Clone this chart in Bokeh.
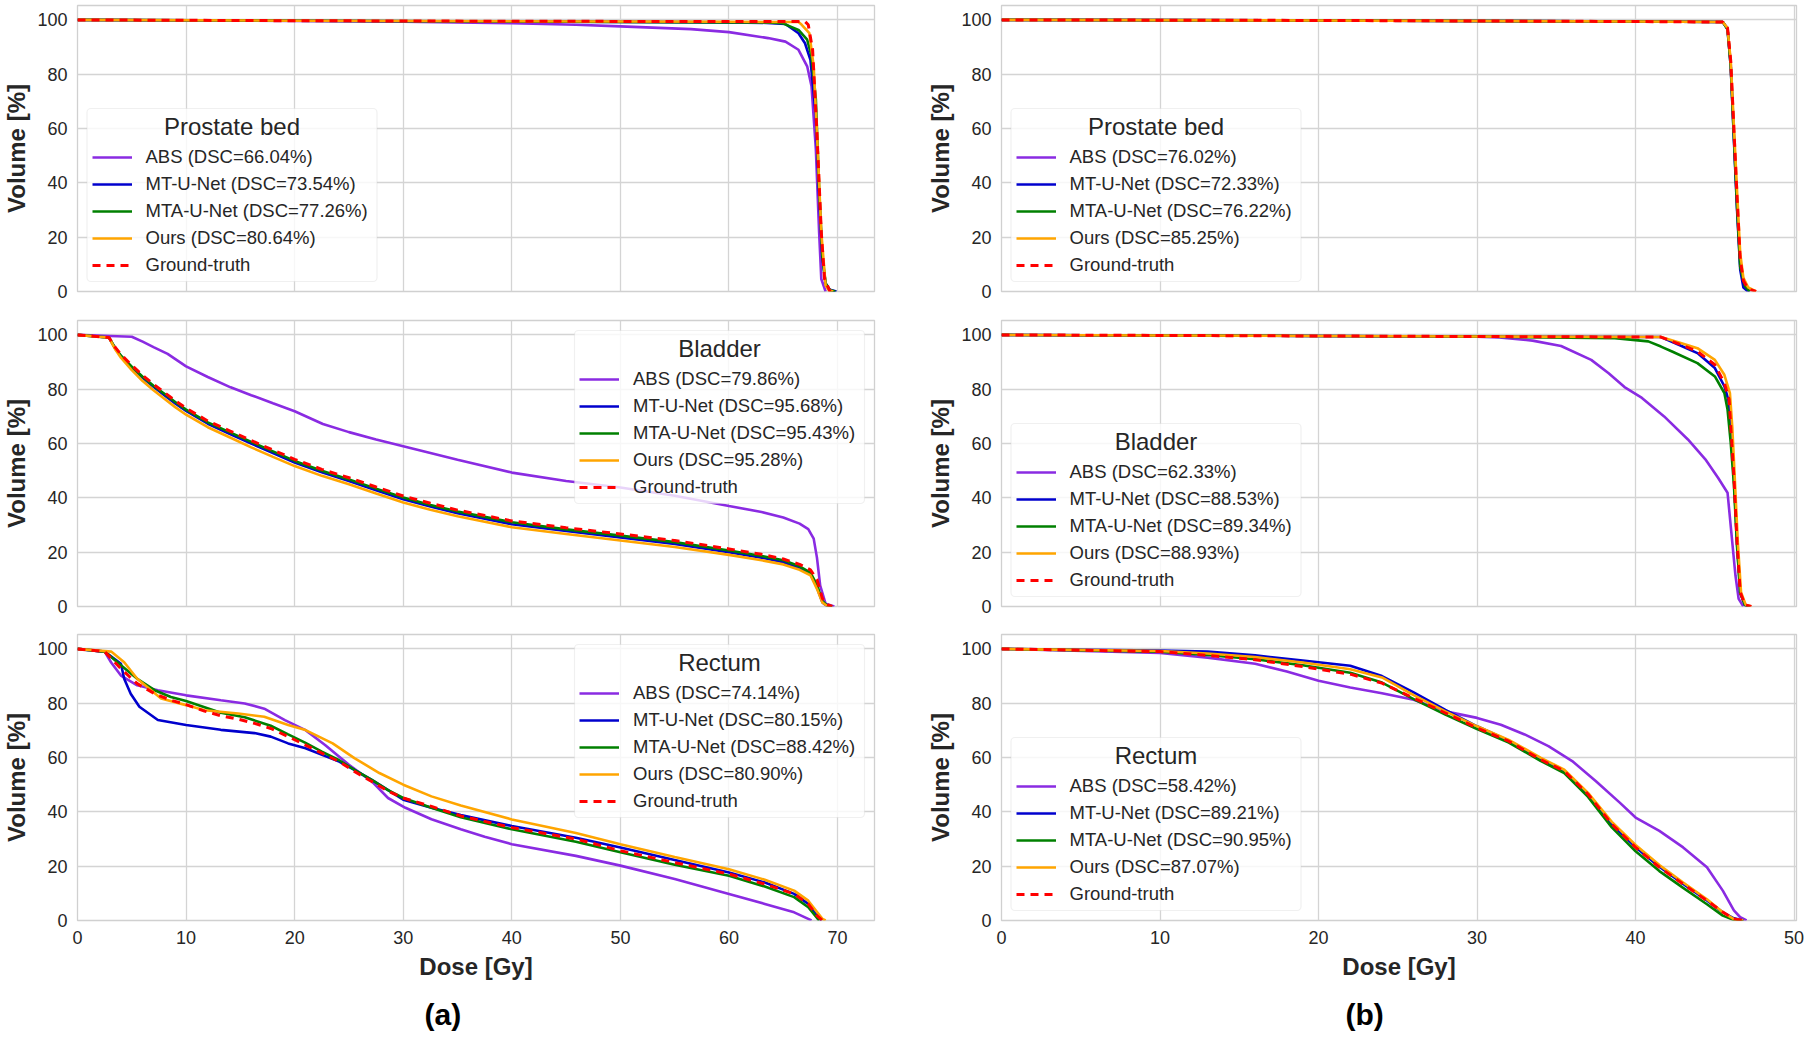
from bokeh.plotting import figure
from bokeh.models import Range1d, Legend, LegendItem, Title, FixedTicker, BoxAnnotation, Label
from bokeh.layouts import column, row
from bokeh.embed import file_html
from bokeh.resources import INLINE

# ---------------- data ----------------
methods = ["ABS", "MT-U-Net", "MTA-U-Net", "Ours", "Ground-truth"]
x_ticks_a = [0, 10, 20, 30, 40, 50, 60, 70]
x_ticks_b = [0, 10, 20, 30, 40, 50]
y_ticks = [0, 20, 40, 60, 80, 100]

# (a) Prostate bed
pa_abs_d = [0, 10, 20, 30, 40, 45.9, 50, 56.5, 60, 63.6, 65.2, 66.4, 67.2, 67.6, 68.0, 68.3, 68.5, 68.9]
pa_abs_v = [100, 99.8, 99.6, 99.3, 98.8, 98.2, 97.6, 96.6, 95.5, 93.3, 92.0, 89.0, 82.9, 75.6, 52.3, 21.8, 4.6, 0]
pa_mt_d = [0, 20, 40, 60, 63.5, 65.2, 66.4, 67.0, 67.5, 68.0, 68.3, 68.6, 68.9, 69.3, 69.9]
pa_mt_v = [100, 99.7, 99.4, 99.1, 98.9, 98.5, 95.1, 91.4, 85.3, 64.5, 35, 12, 3, 0.6, 0]
pa_mta_d = [0, 20, 40, 60, 64.0, 64.9, 66.4, 67.2, 67.6, 68.0, 68.3, 68.6, 68.9, 69.3, 69.8]
pa_mta_v = [100, 99.7, 99.4, 99.1, 99.0, 98.8, 96.3, 92.7, 86.6, 70.7, 38, 13, 3, 0.5, 0]
pa_ours_d = [0, 20, 40, 60, 66.4, 66.7, 67.4, 67.8, 68.1, 68.5, 68.9, 69.2, 69.6]
pa_ours_v = [100, 99.7, 99.5, 99.3, 99.2, 98.2, 95.1, 82.9, 58.4, 21.8, 2.2, 0.5, 0]
pa_gt_d = [0, 20, 40, 60, 67.0, 67.3, 67.7, 68.1, 68.5, 68.8, 69.3]
pa_gt_v = [100, 99.7, 99.5, 99.4, 99.4, 98.2, 89, 58.4, 21.8, 4.6, 0]
pa_dsc = ["66.04", "73.54", "77.26", "80.64"]

# (a) Bladder
ba_abs_d = [0, 3, 5, 6, 7, 8.3, 10, 12, 14.1, 16, 18, 20, 22.6, 25, 27.5, 30, 35, 40, 45, 50, 55, 60, 63, 65, 66.5, 67.3, 67.8, 68.1, 68.4, 68.9, 69.7]
ba_abs_v = [100, 99.6, 99.3, 97.5, 95.5, 93, 88.4, 84.5, 80.7, 77.8, 74.8, 71.9, 67.2, 64.2, 61.5, 59, 54, 49.3, 46.2, 43.8, 40.8, 37, 34.8, 32.8, 30.5, 28.5, 25, 18, 7.7, 1, 0]
ba_d = [0, 2, 2.9, 3.5, 4, 5, 6, 7, 8, 9, 10, 12, 14, 16, 18, 20, 22.5, 25, 27.5, 30, 32.5, 35, 37.5, 40, 45, 50, 55, 60, 63, 65, 66.5, 67.5, 68.1, 68.6, 69.0, 69.5]
ba_gt_v = [100, 99.3, 99, 95.3, 92.8, 88.8, 85.1, 81.8, 78.8, 75.8, 73.0, 68.3, 64.7, 61.1, 57.6, 54.2, 50.5, 47.4, 44.0, 40.7, 38.0, 35.5, 33.5, 31.5, 29.0, 26.7, 24.3, 21.2, 19.2, 17.5, 15.5, 13.5, 10, 3, 0.8, 0]
ba_mta_v = [100, 99.3, 99, 95.0, 92.4, 88.3, 84.6, 81.3, 78.3, 75.3, 72.5, 67.8, 64.2, 60.6, 57.1, 53.6, 50.0, 46.8, 43.4, 40.1, 37.4, 35.0, 33.0, 31.0, 28.4, 26.1, 23.7, 20.6, 18.6, 17.0, 14.8, 12.5, 8, 2, 0.5, 0]
ba_mt_v = [100, 99.3, 99, 94.8, 92.2, 88.0, 84.2, 80.9, 77.8, 74.8, 72.0, 67.3, 63.6, 60.0, 56.5, 53.0, 49.4, 46.2, 42.8, 39.5, 36.8, 34.3, 32.3, 30.3, 27.8, 25.4, 23.0, 20.0, 18.0, 16.3, 14.2, 12.0, 7, 1.5, 0.3, 0]
ba_ours_v = [100, 99.3, 99, 94.5, 91.6, 87.0, 83.0, 79.6, 76.5, 73.4, 70.6, 66.0, 62.3, 58.6, 55.1, 51.7, 48.1, 45.0, 41.6, 38.3, 35.6, 33.2, 31.2, 29.2, 26.7, 24.3, 21.9, 19.0, 17.0, 15.5, 13.5, 11.5, 6.5, 1.5, 0.3, 0]
ba_dsc = ["79.86", "95.68", "95.43", "95.28"]

# (a) Rectum
ra_abs_d = [0, 2.5, 3.1, 4.0, 5.5, 7.4, 10, 13.2, 15.4, 17.2, 19.1, 21, 22.8, 25, 27.1, 28.6, 30.2, 32.6, 35.3, 37.5, 40, 45.9, 50, 55, 60, 63.3, 66, 67.3, 67.6]
ra_abs_v = [100, 99, 95, 90.2, 86.6, 84.8, 82.9, 81.1, 79.9, 78, 73.8, 70.1, 64.6, 57.3, 51.2, 45.1, 41.5, 37.3, 33.6, 30.8, 28.1, 23.8, 20.2, 15.3, 9.8, 6.1, 3, 0.6, 0]
ra_mt_d = [0, 2.5, 4.0, 4.3, 4.9, 5.7, 7.4, 10, 13.2, 16.3, 17.8, 19.4, 21, 24.1, 25.5, 27.1, 30, 32.6, 35.3, 40, 45.9, 50, 55, 60, 63.3, 66, 67.3, 68.5]
ra_mt_v = [100, 99, 94.5, 89, 83.5, 78.7, 73.8, 72, 70.2, 69, 67.7, 65.2, 63.4, 58.5, 55.5, 51.8, 44.5, 41.5, 38.8, 34.8, 30.5, 26.9, 22.3, 17.7, 14, 9.8, 6.1, 0]
ra_mta_d = [0, 2.5, 4.0, 5.5, 7.1, 8.6, 10, 13.2, 15.4, 17.8, 19.4, 21, 22.5, 24.1, 25.5, 27.1, 28.6, 30, 32.6, 35.3, 40, 45.9, 50, 55, 60, 63.3, 66, 67.3, 68.3]
ra_mta_v = [100, 99, 94, 89, 84.8, 82.3, 80.8, 76.5, 74.8, 71.7, 68.5, 65.4, 62.2, 59, 55.5, 51.8, 48, 45.1, 41.5, 38, 33.6, 29, 25.1, 20.5, 16.5, 12.5, 8.6, 4.9, 0]
ra_ours_d = [0, 3.1, 4.3, 5.5, 7.7, 10, 11.7, 14.8, 17.2, 19.4, 21, 23.5, 25.5, 27.8, 30, 32.6, 35.3, 40, 45.9, 50, 55, 60, 63.3, 66, 67.3, 68.6, 68.9]
ra_ours_v = [100, 99, 95.1, 89, 81.7, 79.3, 77.4, 76.2, 75, 72, 70.1, 65.2, 59.8, 54.3, 50, 45.7, 42.3, 37.2, 32.2, 28.1, 23.4, 18.9, 15, 11, 7.3, 0.6, 0]
ra_gt_d = [0, 2.5, 4.0, 5.5, 7.1, 8.6, 10, 11.7, 13.2, 14.8, 16.3, 17.8, 19.4, 21, 22.5, 24.1, 25.5, 27.1, 28.6, 30, 32.6, 35.3, 40, 45.9, 50, 54.9, 60, 63.3, 66, 67.3, 68.1, 68.6]
ra_gt_v = [100, 99, 92.7, 87.2, 83.5, 81.1, 79.5, 77.1, 75.4, 74.1, 72.6, 70.7, 67.7, 64.6, 61.6, 58.5, 54.9, 51.2, 47.6, 45.1, 42, 38.5, 34.2, 30, 25.7, 21.4, 17.1, 13.4, 9.8, 6.1, 1.8, 0]
ra_dsc = ["74.14", "80.15", "88.42", "80.90"]

# (b) Prostate bed
pb_abs_d = [0, 20, 40, 45.5, 45.8, 46.0, 46.2, 46.4, 46.6, 46.8, 47.2]
pb_abs_v = [100, 99.8, 99.4, 99.2, 97, 84, 58, 32, 10, 3, 0]
pb_mt_d = [0, 20, 40, 45.5, 45.8, 46.0, 46.2, 46.4, 46.6, 46.8, 47.1]
pb_mt_v = [100, 99.8, 99.4, 99.2, 96.5, 83, 56, 30, 8, 1.5, 0]
pb_mta_d = [0, 20, 40, 45.5, 45.8, 46.0, 46.2, 46.4, 46.6, 46.9, 47.2]
pb_mta_v = [100, 99.8, 99.4, 99.2, 96.5, 83, 57, 31, 9, 2, 0]
pb_ours_d = [0, 20, 40, 45.5, 45.8, 46.0, 46.2, 46.4, 46.6, 46.8, 47.1, 47.6]
pb_ours_v = [100, 99.8, 99.4, 99.2, 97, 85, 61, 37, 14, 5, 1.5, 0]
pb_gt_d = [0, 20, 40, 45.5, 45.8, 46.0, 46.2, 46.4, 46.6, 46.8, 47.1, 47.6]
pb_gt_v = [100, 99.8, 99.4, 99.2, 97, 85, 60, 35, 12, 4, 1, 0]
pb_dsc = ["76.02", "72.33", "76.22", "85.25"]

# (b) Bladder
bb_abs_d = [0, 10, 20, 30, 31.4, 33.5, 35.3, 37.2, 38.3, 39.3, 40.4, 41.8, 43.3, 44.4, 45.2, 45.8, 46.0, 46.3, 46.5, 46.8]
bb_abs_v = [100, 99.8, 99.6, 99.3, 99.1, 97.9, 95.9, 90.8, 85.9, 80.8, 76.8, 70, 61.5, 54.2, 47.4, 41.9, 29.7, 11.4, 2.8, 0]
bb_mt_d = [0, 10, 20, 30, 41.6, 42.9, 43.9, 45.0, 45.6, 45.85, 46.0, 46.2, 46.4, 46.6, 46.9, 47.2]
bb_mt_v = [100, 99.8, 99.6, 99.4, 99.2, 95.9, 93.3, 87.8, 81.1, 76.2, 66, 48, 23, 5, 0.5, 0]
bb_mta_d = [0, 10, 20, 30, 38.7, 40.8, 41.6, 42.3, 43.9, 45.0, 45.6, 45.8, 46.0, 46.2, 46.4, 46.6, 46.9, 47.2]
bb_mta_v = [100, 99.8, 99.6, 99.4, 98.8, 97.6, 95.7, 93.9, 89.6, 84.7, 78.6, 72.5, 60.3, 45, 22, 5, 0.5, 0]
bb_ours_d = [0, 10, 20, 30, 41.6, 42.9, 43.9, 45.0, 45.6, 45.95, 46.1, 46.25, 46.45, 46.65, 46.95, 47.3]
bb_ours_v = [100, 99.8, 99.6, 99.4, 99.2, 96.9, 95.1, 90.8, 85.3, 78.6, 66, 48, 23.6, 5.3, 0.6, 0]
bb_gt_d = [0, 10, 20, 30, 41.6, 42.9, 43.9, 45.0, 45.6, 45.9, 46.0, 46.2, 46.4, 46.6, 46.9, 47.3]
bb_gt_v = [100, 99.8, 99.6, 99.4, 99.2, 96.3, 93.9, 89, 82.3, 76.2, 66.4, 48, 23.6, 5.3, 0.6, 0]
bb_dsc = ["62.33", "88.53", "89.34", "88.93"]

# (b) Rectum
rb_abs_d = [0, 10, 13, 16, 18, 20, 22, 24, 26, 28, 30, 31.5, 33, 34.5, 36, 37.5, 39, 40, 41.5, 43, 44.5, 45.5, 46.2, 46.6, 47.0]
rb_abs_v = [100, 98.5, 96.8, 94.5, 91.7, 88.3, 85.8, 83.7, 81.3, 77, 74.6, 72.1, 68.5, 64.2, 58.7, 51.3, 43.4, 37.9, 33, 26.9, 19.6, 11, 3.7, 1.2, 0]
rb_d = [0, 10, 13, 16, 19, 22, 24, 26, 28, 30, 32, 34, 35.5, 37, 38.5, 40, 41.5, 43, 44.5, 45.5, 46.2, 46.8]
rb_mt_v = [100, 99.4, 99, 97.6, 95.7, 93.8, 90, 84, 77.5, 71.5, 66.2, 59.5, 55, 46.5, 35.3, 27, 19.8, 13.5, 7.4, 3, 0.8, 0]
rb_mta_v = [100, 99, 97.8, 96.2, 94, 91.2, 87.6, 81.5, 75.8, 70.5, 65.5, 58.8, 54.3, 45.5, 34.3, 25.5, 18.2, 12, 6, 1.8, 0.2, 0]
rb_ours_v = [100, 99.2, 98.3, 97, 95, 92.5, 89.5, 83, 77, 71.5, 66.5, 60, 55.5, 47, 36.3, 27.8, 20.4, 14, 7.8, 3, 0.5, 0]
rb_gt_v = [100, 99, 97.6, 96, 93.5, 90.7, 87.4, 81.9, 76.4, 70.9, 66, 59.3, 55, 46.5, 35.5, 26.9, 19.6, 13.4, 7.3, 3.1, 0.6, 0]
rb_dsc = ["58.42", "89.21", "90.95", "87.07"]

# ---------------- styling ----------------
FONT = "Liberation Sans"
TXT = "#262626"
COLORS = ["#8A2BE2", "#0000CD", "#008000", "#FFA500", "#FF0000"]
GRID = "#d4d4d4"
FRAME_H = 286
BOX_W, BOX_H = 290, 173


def make_panel(series, dsc, organ, xmax, xticks, fw, left, right, top, bottom,
               show_x, legend_loc, caption=None, caption_offset=0):
    p = figure(frame_width=fw, frame_height=FRAME_H,
               min_border_left=left, min_border_right=right,
               min_border_top=top, min_border_bottom=bottom,
               x_range=Range1d(0, xmax), y_range=Range1d(0, 105.3),
               toolbar_location=None, output_backend="svg")
    p.background_fill_color = "white"
    p.border_fill_color = "white"
    p.outline_line_color = "#d0d0d0"
    p.outline_line_width = 1.3
    p.xaxis.ticker = FixedTicker(ticks=xticks)
    p.yaxis.ticker = FixedTicker(ticks=y_ticks)
    p.xgrid.ticker = FixedTicker(ticks=xticks)
    p.ygrid.ticker = FixedTicker(ticks=y_ticks)
    p.grid.grid_line_color = GRID
    p.grid.grid_line_width = 1.3
    for ax in (p.xaxis[0], p.yaxis[0]):
        ax.axis_line_color = None
        ax.major_tick_line_color = None
        ax.minor_tick_line_color = None
        ax.major_tick_out = 0
        ax.major_tick_in = 0
        ax.minor_tick_out = 0
        ax.minor_tick_in = 0
        ax.major_label_text_font = FONT
        ax.major_label_text_font_size = "18px"
        ax.major_label_text_color = TXT
        ax.major_label_standoff = 10
        ax.axis_label_text_font = FONT
        ax.axis_label_text_font_style = "bold"
        ax.axis_label_text_color = TXT
    p.yaxis.axis_label = "Volume [%]"
    p.yaxis.axis_label_text_font_size = "24px"
    p.yaxis.axis_label_standoff = 4
    if show_x:
        p.xaxis.axis_label = "Dose [Gy]"
        p.xaxis.axis_label_text_font_size = "24px"
        p.xaxis.axis_label_standoff = 6
    else:
        p.xaxis.visible = False

    items = []
    for i, (d, v) in enumerate(series):
        if i == 4:
            r = p.line(d, v, line_color=COLORS[i], line_width=3.0, line_dash="8 6")
            label = methods[i]
        else:
            r = p.line(d, v, line_color=COLORS[i], line_width=2.6)
            label = f"{methods[i]} (DSC={dsc[i]}%)"
        items.append(LegendItem(label=label, renderers=[r]))

    # legend frame (box + centred title) in screen units of the plot frame
    if legend_loc == "top_right":
        bx, by = fw - 10 - BOX_W, FRAME_H - 10 - BOX_H
    else:
        bx, by = 9.5, 10
    box = BoxAnnotation(left=bx, right=bx + BOX_W, bottom=by, top=by + BOX_H,
                        left_units="screen", right_units="screen",
                        bottom_units="screen", top_units="screen",
                        fill_color="white", fill_alpha=0.8,
                        line_color="#cccccc", line_width=1.2, border_radius=4)
    p.add_layout(box)

    lg = Legend(items=items, location=(bx + 5, by + 5))
    lg.padding = 5
    lg.margin = 0
    lg.spacing = 5
    lg.glyph_width = 40
    lg.glyph_height = 22
    lg.label_height = 22
    lg.label_standoff = 14
    lg.label_text_font = FONT
    lg.label_text_font_size = "18.5px"
    lg.label_text_color = TXT
    lg.border_line_color = None
    lg.background_fill_alpha = 0
    p.add_layout(lg)

    ttl = Label(x=bx + BOX_W / 2, y=by + BOX_H - 18, x_units="screen", y_units="screen",
                text=organ, text_align="center", text_baseline="middle",
                text_font=FONT, text_font_size="24px", text_color=TXT)
    p.add_layout(ttl)

    if caption:
        t = Title(text=caption, align="left", offset=caption_offset,
                  text_font=FONT, text_font_size="30px", text_font_style="bold",
                  text_color="black", standoff=26)
        p.add_layout(t, "below")
    return p


a1 = make_panel([(pa_abs_d, pa_abs_v), (pa_mt_d, pa_mt_v), (pa_mta_d, pa_mta_v),
                 (pa_ours_d, pa_ours_v), (pa_gt_d, pa_gt_v)], pa_dsc, "Prostate bed",
                73.4, x_ticks_a, 797, 77, 10, 5, 15, False, "bottom_left")
a2 = make_panel([(ba_abs_d, ba_abs_v), (ba_d, ba_mt_v), (ba_d, ba_mta_v),
                 (ba_d, ba_ours_v), (ba_d, ba_gt_v)], ba_dsc, "Bladder",
                73.4, x_ticks_a, 797, 77, 10, 14, 14, False, "top_right")
a3 = make_panel([(ra_abs_d, ra_abs_v), (ra_mt_d, ra_mt_v), (ra_mta_d, ra_mta_v),
                 (ra_ours_d, ra_ours_v), (ra_gt_d, ra_gt_v)], ra_dsc, "Rectum",
                73.4, x_ticks_a, 797, 77, 10, 14, 20, True, "top_right", "(a)", 347)
b1 = make_panel([(pb_abs_d, pb_abs_v), (pb_mt_d, pb_mt_v), (pb_mta_d, pb_mta_v),
                 (pb_ours_d, pb_ours_v), (pb_gt_d, pb_gt_v)], pb_dsc, "Prostate bed",
                50.15, x_ticks_b, 795, 117, 10, 5, 15, False, "bottom_left")
b2 = make_panel([(bb_abs_d, bb_abs_v), (bb_mt_d, bb_mt_v), (bb_mta_d, bb_mta_v),
                 (bb_ours_d, bb_ours_v), (bb_gt_d, bb_gt_v)], bb_dsc, "Bladder",
                50.15, x_ticks_b, 795, 117, 10, 14, 14, False, "bottom_left")
b3 = make_panel([(rb_abs_d, rb_abs_v), (rb_d, rb_mt_v), (rb_d, rb_mta_v),
                 (rb_d, rb_ours_v), (rb_d, rb_gt_v)], rb_dsc, "Rectum",
                50.15, x_ticks_b, 795, 117, 10, 14, 20, True, "bottom_left", "(b)", 344)

layout = row(column(a1, a2, a3, spacing=0), column(b1, b2, b3, spacing=0), spacing=0)

open("out.html", "w").write(file_html(layout, INLINE))
